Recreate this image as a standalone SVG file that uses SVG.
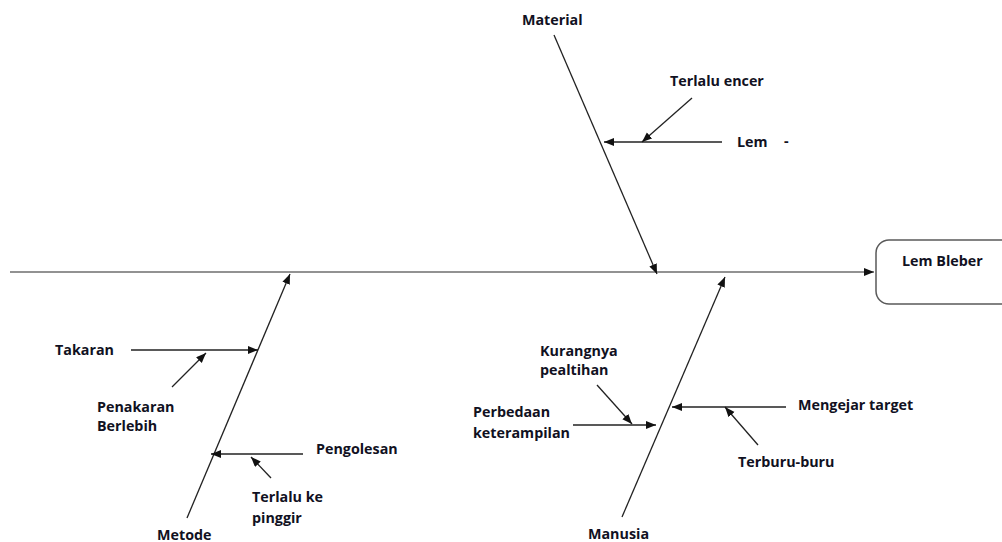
<svg xmlns="http://www.w3.org/2000/svg" width="1002" height="542" viewBox="0 0 1002 542">
  <style>
    .lbl { font-family: "Open Sans", "Liberation Sans", sans-serif; font-weight: bold; font-size: 14.3px; fill: #111122; }
    .bone { stroke: #222; stroke-width: 1.3; fill: none; }
    .spine { stroke: #6e6e6e; stroke-width: 1.6; fill: none; }
    .box { fill: #fff; stroke: #5a5a5a; stroke-width: 1.5; }
  </style>
  <defs>
    <marker id="arr" markerUnits="userSpaceOnUse" markerWidth="12" markerHeight="10" refX="10" refY="4" orient="auto">
      <path d="M0,0 L10,4 L0,8 z" fill="#111"/>
    </marker>
  </defs>
  <rect width="1002" height="542" fill="#fff"/>

  <g id="connectors">
    <!-- main spine -->
    <line class="spine" x1="10" y1="272" x2="874" y2="272" marker-end="url(#arr)"/>
    <!-- major bones -->
    <line class="bone" x1="554" y1="35" x2="657" y2="274" marker-end="url(#arr)"/>
    <line class="bone" x1="187" y1="518" x2="290" y2="274" marker-end="url(#arr)"/>
    <line class="bone" x1="622" y1="517" x2="725" y2="277" marker-end="url(#arr)"/>
    <!-- Material causes -->
    <line class="bone" x1="722" y1="142" x2="604" y2="142" marker-end="url(#arr)"/>
    <line class="bone" x1="692" y1="98" x2="642" y2="142" marker-end="url(#arr)"/>
    <!-- Metode causes -->
    <line class="bone" x1="131" y1="350" x2="258" y2="350" marker-end="url(#arr)"/>
    <line class="bone" x1="172" y1="387" x2="206" y2="353" marker-end="url(#arr)"/>
    <line class="bone" x1="303" y1="454" x2="211" y2="454" marker-end="url(#arr)"/>
    <line class="bone" x1="271" y1="478" x2="251" y2="457" marker-end="url(#arr)"/>
    <!-- Manusia causes -->
    <line class="bone" x1="573" y1="425" x2="656" y2="425" marker-end="url(#arr)"/>
    <line class="bone" x1="597" y1="385" x2="632" y2="424" marker-end="url(#arr)"/>
    <line class="bone" x1="786" y1="407" x2="672" y2="407" marker-end="url(#arr)"/>
    <line class="bone" x1="758" y1="445" x2="725" y2="407" marker-end="url(#arr)"/>
  </g>

  <g id="effect">
    <rect class="box" x="876" y="240" width="140" height="64" rx="13"/>
    <text class="lbl" x="902" y="266">Lem Bleber</text>
  </g>

  <g id="material">
    <text class="lbl" x="522" y="25">Material</text>
    <text class="lbl" x="670" y="86">Terlalu encer</text>
    <text class="lbl" x="737" y="147">Lem</text>
    <text class="lbl" x="784" y="146">-</text>
  </g>

  <g id="metode">
    <text class="lbl" x="157" y="540">Metode</text>
    <text class="lbl" x="55" y="355">Takaran</text>
    <text class="lbl" x="97" y="412">Penakaran</text>
    <text class="lbl" x="97" y="431">Berlebih</text>
    <text class="lbl" x="316" y="454">Pengolesan</text>
    <text class="lbl" x="252" y="502">Terlalu ke</text>
    <text class="lbl" x="252" y="523">pinggir</text>
  </g>

  <g id="manusia">
    <text class="lbl" x="588" y="539">Manusia</text>
    <text class="lbl" x="540" y="356">Kurangnya</text>
    <text class="lbl" x="540" y="375">pealtihan</text>
    <text class="lbl" x="473" y="417">Perbedaan</text>
    <text class="lbl" x="473" y="438">keterampilan</text>
    <text class="lbl" x="798" y="410">Mengejar target</text>
    <text class="lbl" x="738" y="467">Terburu-buru</text>
  </g>
</svg>
